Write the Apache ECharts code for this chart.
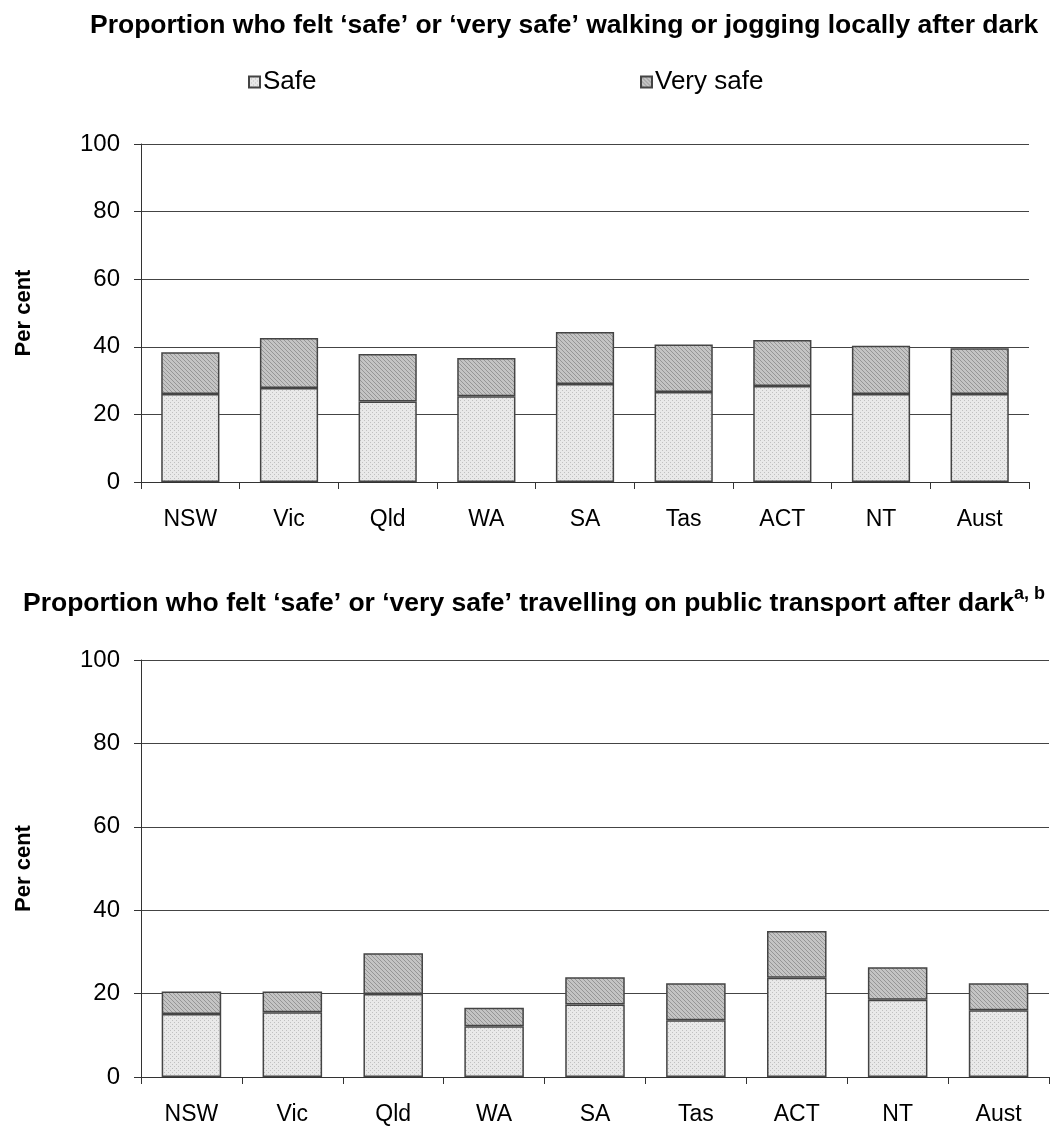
<!DOCTYPE html>
<html>
<head>
<meta charset="utf-8">
<script src="https://cdn.jsdelivr.net/npm/echarts@6/dist/echarts.min.js"></script>
<style>
html,body{margin:0;padding:0;background:#fff;}
#c{width:1058px;height:1129px;}
</style>
</head>
<body>
<div id="c"></div>
<script>
const categories = ['NSW','Vic','Qld','WA','SA','Tas','ACT','NT','Aust'];
const yTicks = [0,20,40,60,80,100];
// Chart 1: walking or jogging locally after dark
const walkSafe     = [26.0, 27.8, 23.8, 25.4, 29.0, 26.6, 28.4, 26.0, 26.0];
const walkVerySafe = [12.4, 14.8, 14.1, 11.3, 15.4, 14.1, 13.6, 14.3, 13.6];
// Chart 2: travelling on public transport after dark
const ptSafe       = [15.1, 15.5, 19.9, 12.2, 17.4, 13.6, 23.8, 18.5, 16.0];
const ptVerySafe   = [5.4, 5.0, 9.8, 4.4, 6.5, 8.9, 11.2, 7.8, 6.5];

const title1 = 'Proportion who felt \u2018safe\u2019 or \u2018very safe\u2019 walking or jogging locally after dark';
const title2 = 'Proportion who felt \u2018safe\u2019 or \u2018very safe\u2019 travelling on public transport after dark';
const title2sup = 'a, b';
const yName = 'Per cent';

function makePattern(base, dot, mode){
  const c = document.createElement('canvas');
  c.width = 4; c.height = 4;
  const g = c.getContext('2d');
  g.fillStyle = base; g.fillRect(0,0,4,4);
  g.fillStyle = dot;
  if (mode === 'dots') {
    g.fillRect(0,0,1,1); g.fillRect(2,2,1,1);
  } else {
    g.fillRect(0,0,1,1); g.fillRect(1,1,1,1); g.fillRect(2,2,1,1); g.fillRect(3,3,1,1);
  }
  return {image: c, repeat: 'repeat'};
}
const safeFill = makePattern('#e9e9e9', '#c0c0c0', 'dots');
const verySafeFill = makePattern('#c4c4c4', '#969696', 'diag');

const FONT = '"Liberation Sans", Arial, sans-serif';
const chart = echarts.init(document.getElementById('c'), null, {renderer: 'canvas'});

function yAxis(gi){
  return {
    type: 'value', gridIndex: gi, min: 0, max: 100, interval: 20,
    name: yName, nameLocation: 'middle', nameGap: 106, nameRotate: 90,
    nameTextStyle: {fontFamily: FONT, fontSize: 22, fontWeight: 'bold', color: '#000'},
    axisLine: {show: true, lineStyle: {color: '#333', width: 1}},
    axisTick: {show: true, inside: false, length: 7, lineStyle: {color: '#333'}},
    axisLabel: {fontFamily: FONT, fontSize: 24, color: '#000', margin: 21},
    splitLine: {show: true, lineStyle: {color: '#444', width: 1}}
  };
}
function xAxis(gi){
  return {
    type: 'category', gridIndex: gi, data: categories,
    axisLine: {show: true, onZero: false, lineStyle: {color: '#333', width: 1}},
    axisTick: {show: true, alignWithLabel: false, length: 7, lineStyle: {color: '#333'}},
    axisLabel: {fontFamily: FONT, fontSize: 23, color: '#000', margin: 26}
  };
}
const barStyle = (fill) => ({color: fill, borderColor: '#444', borderWidth: 1.5});

chart.setOption({
  animation: false,
  backgroundColor: '#fff',
  title: [
    {text: title1, left: 85, top: 7,
     textStyle: {fontFamily: FONT, fontSize: 26.5, fontWeight: 'bold', color: '#000'}},
    {text: '{t|' + title2 + '}{s|' + title2sup + '}', left: 18, top: 580,
     textStyle: {fontFamily: FONT, color: '#000',
       rich: {
         t: {fontFamily: FONT, fontSize: 26.5, fontWeight: 'bold', color: '#000', verticalAlign: 'bottom'},
         s: {fontFamily: FONT, fontSize: 18, fontWeight: 'bold', color: '#000', verticalAlign: 'top', padding: [0,0,14,0]}
       }}}
  ],
  legend: [
    {data: ['Safe'], left: 243, top: 64, icon: 'rect', itemWidth: 11, itemHeight: 11, itemGap: 4,
     textStyle: {fontFamily: FONT, fontSize: 26, color: '#000', padding: [0,0,0,-2]}},
    {data: ['Very safe'], left: 635, top: 64, icon: 'rect', itemWidth: 11, itemHeight: 11, itemGap: 4,
     textStyle: {fontFamily: FONT, fontSize: 26, color: '#000', padding: [0,0,0,-2]}}
  ],
  grid: [
    {left: 141, right: 29, top: 144, height: 338},
    {left: 141, right: 9, top: 660, height: 417}
  ],
  xAxis: [xAxis(0), xAxis(1)],
  yAxis: [yAxis(0), yAxis(1)],
  series: [
    {name: 'Safe', type: 'bar', stack: 'a', xAxisIndex: 0, yAxisIndex: 0, data: walkSafe,
     barWidth: '59%', itemStyle: barStyle(safeFill)},
    {name: 'Very safe', type: 'bar', stack: 'a', xAxisIndex: 0, yAxisIndex: 0, data: walkVerySafe,
     barWidth: '59%', itemStyle: barStyle(verySafeFill)},
    {name: 'Safe', type: 'bar', stack: 'b', xAxisIndex: 1, yAxisIndex: 1, data: ptSafe,
     barWidth: '59%', itemStyle: barStyle(safeFill)},
    {name: 'Very safe', type: 'bar', stack: 'b', xAxisIndex: 1, yAxisIndex: 1, data: ptVerySafe,
     barWidth: '59%', itemStyle: barStyle(verySafeFill)}
  ]
});
</script>
</body>
</html>
